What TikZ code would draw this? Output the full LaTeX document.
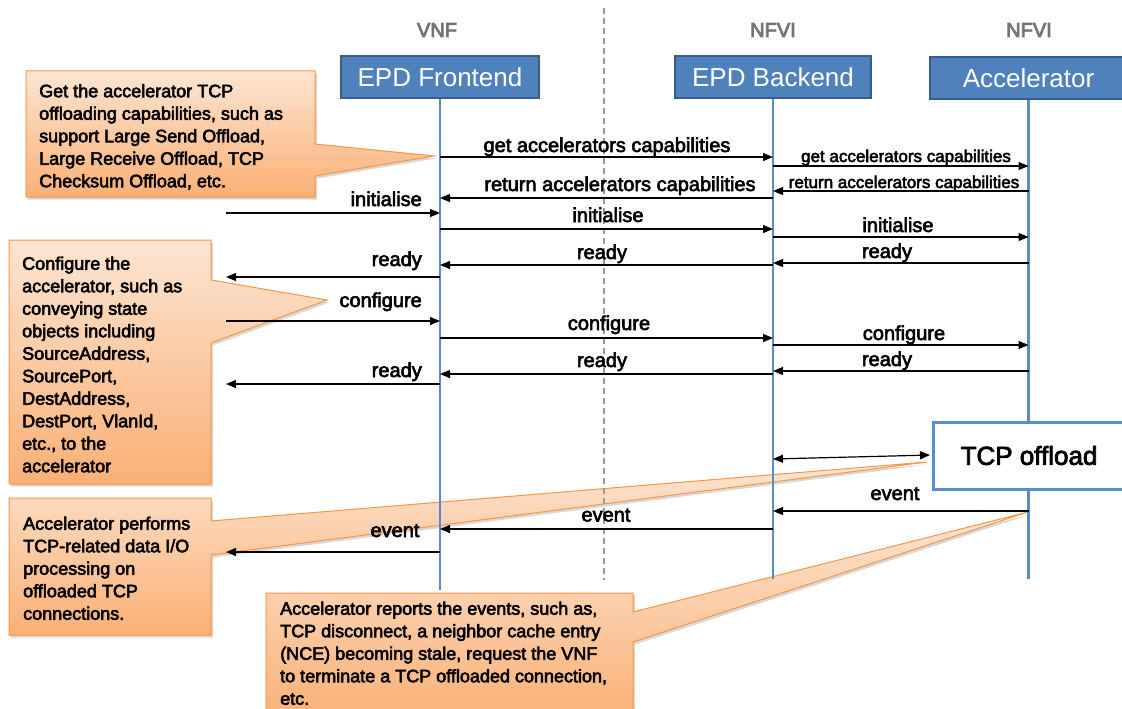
\documentclass[tikz,border=0pt]{standalone}
\usepackage{fontspec}
\setmainfont{Liberation Sans}
\newfontfamily\heavyfont{Liberation Sans}[FakeBold=3]
\newfontfamily\headfont{Liberation Sans}[FakeBold=4]
\usetikzlibrary{arrows.meta,shadows}

\definecolor{hdrfill}{HTML}{4F81BD}
\definecolor{hdrline}{HTML}{385D8A}
\definecolor{lifeblue}{HTML}{5B8BCB}
\definecolor{tcpblue}{HTML}{558ED5}
\definecolor{noteline}{HTML}{F79646}
\definecolor{notetop}{HTML}{FDE5D2}
\definecolor{notebot}{HTML}{FAB075}
\definecolor{hdrgray}{HTML}{747474}

\begin{document}
\begin{tikzpicture}[x=1pt,y=-1pt,
  header/.style={font=\headfont\fontsize{20}{24}\selectfont, text=hdrgray, inner sep=0pt},
  rolebox/.style={fill=hdrfill, draw=hdrline, line width=2.5pt, text=white,
    font=\fontsize{26}{30}\selectfont, inner sep=0pt, minimum height=42pt},
  lifeline/.style={draw=lifeblue, line width=2.5pt},
  msg/.style={draw=black, line width=1.2pt, -{Triangle[length=10pt,width=8pt]}},
  lbl/.style={font=\heavyfont\fontsize{20}{24}\selectfont, inner sep=0pt, anchor=base},
  lbll/.style={lbl, anchor=base east},
  slbl/.style={font=\heavyfont\fontsize{17}{20}\selectfont, inner sep=0pt, anchor=base},
  note/.style={draw=noteline, line width=1pt, top color=notetop, bottom color=notebot,
    drop shadow={shadow xshift=2pt, shadow yshift=-2.5pt, opacity=0.3}},
  notetext/.style={font=\heavyfont\fontsize{18}{22.5}\selectfont, align=left, inner sep=0pt, anchor=north west},
]
\useasboundingbox (0,0) rectangle (1122,709);
\fill[white] (0,0) rectangle (1122,709);
\clip (0,0) rectangle (1122,709);

% explanatory callouts (behind everything else)
\path[note] (26,71) -- (315,71) -- (315,144) -- (434,156) -- (315,176) -- (315,197) -- (26,197) -- cycle;
\node[notetext] (n1) at (39,84) {Get the accelerator TCP\\offloading capabilities, such as\\support Large Send Offload,\\Large Receive Offload, TCP\\Checksum Offload, etc.};

\path[note] (9,240) -- (211,240) -- (211,280) -- (327,300) -- (211,343) -- (211,484) -- (9,484) -- cycle;
\node[notetext] (n2) at (22,256.5) {Configure the\\accelerator, such as\\conveying state\\objects including\\SourceAddress,\\SourcePort,\\DestAddress,\\DestPort, VlanId,\\etc., to the\\accelerator};

\path[note] (9,498) -- (211,498) -- (211,521) -- (927,462) -- (211,555) -- (211,635) -- (9,635) -- cycle;
\node[notetext] (n3) at (23,516.5) {Accelerator performs\\TCP-related data I/O\\processing on\\offloaded TCP\\connections.};

\path[note] (266,593) -- (633,593) -- (633,612) -- (1028,512) -- (633,642) -- (633,720) -- (266,720) -- cycle;
\node[notetext] (n4) at (280,601.5) {Accelerator reports the events, such as,\\TCP disconnect, a neighbor cache entry\\(NCE) becoming stale, request the VNF\\to terminate a TCP offloaded connection,\\etc.};

% domain separator
\coordinate (dtop) at (604,8);
\coordinate (dbot) at (604,580);
\draw[draw=black!40, line width=1.2pt, dash pattern=on 6pt off 4pt] (dtop) -- (dbot);

% domain headers
\node[header] (hvnf) at (437,30) {VNF};
\node[header] (hnfvi1) at (773,30) {NFVI};
\node[header] (hnfvi2) at (1029,30) {NFVI};

% participants
\node[rolebox, minimum width=198pt] (fe) at (440,77) {EPD Frontend};
\node[rolebox, minimum width=196pt] (be) at (773,77) {EPD Backend};
\node[rolebox, minimum width=197pt] (ac) at (1028.5,78) {Accelerator};

% lifelines
\draw[lifeline] (fe.south) -- (fe.south |- 0,590);
\draw[lifeline] (be.south) -- (be.south |- 0,579);
\draw[lifeline] (ac.south) -- (ac.south |- 0,579);

\node[draw=tcpblue, line width=3pt, fill=white, minimum width=192pt, minimum height=67pt,
  inner sep=0pt, font=\heavyfont\fontsize{26}{30}\selectfont] (tcp) at (1029,455.5) {TCP offload};

% free end on the left of the VNF
\coordinate (ext) at (226,0);

% capability discovery
\draw[msg] (fe |- 0,157) -- (be |- 0,157);
\node[lbl] (m1) at (607,152) {get accelerators capabilities};
\draw[msg] (be |- 0,166) -- (ac |- 0,166);
\node[slbl] (m2) at (906,162) {get accelerators capabilities};
\draw[msg] (ac |- 0,191) -- (be |- 0,191);
\node[slbl] (m3) at (904,188) {return accelerators capabilities};
\draw[msg] (be |- 0,198) -- (fe |- 0,198);
\node[lbl] (m4) at (620,191) {return accelerators capabilities};

% initialisation
\draw[msg] (ext |- 0,213) -- (fe |- 0,213);
\node[lbll] (m5) at (422,206) {initialise};
\draw[msg] (fe |- 0,229) -- (be |- 0,229);
\node[lbl] (m6) at (608,222) {initialise};
\draw[msg] (be |- 0,237) -- (ac |- 0,237);
\node[lbl] (m7) at (898,232) {initialise};
\draw[msg] (ac |- 0,263) -- (be |- 0,263);
\node[lbl] (m8) at (887,258) {ready};
\draw[msg] (be |- 0,265) -- (fe |- 0,265);
\node[lbl] (m9) at (602,259) {ready};
\draw[msg] (fe |- 0,277) -- (ext |- 0,277);
\node[lbll] (m10) at (422,266) {ready};

% configuration
\draw[msg] (ext |- 0,321) -- (fe |- 0,321);
\node[lbll] (m11) at (422,307) {configure};
\draw[msg] (fe |- 0,338) -- (be |- 0,338);
\node[lbl] (m12) at (609,330) {configure};
\draw[msg] (be |- 0,345) -- (ac |- 0,345);
\node[lbl] (m13) at (904,340) {configure};
\draw[msg] (ac |- 0,371) -- (be |- 0,371);
\node[lbl] (m14) at (887,366) {ready};
\draw[msg] (be |- 0,374) -- (fe |- 0,374);
\node[lbl] (m15) at (602,367) {ready};
\draw[msg] (fe |- 0,384) -- (ext |- 0,384);
\node[lbll] (m16) at (422,377) {ready};

% data path and events
\draw[msg, {Triangle[length=10pt,width=8pt]}-{Triangle[length=10pt,width=8pt]}, shorten >=1.5pt]
  (be |- 0,459) -- (tcp.west |- 0,455);
\draw[msg] (ac |- 0,511) -- (be |- 0,511);
\node[lbl] (m17) at (895,500) {event};
\draw[msg] (be |- 0,529) -- (fe |- 0,529);
\node[lbl] (m18) at (606,521.5) {event};
\draw[msg] (fe |- 0,552) -- (ext |- 0,552);
\node[lbl] (m19) at (395,537) {event};
\end{tikzpicture}
\end{document}
